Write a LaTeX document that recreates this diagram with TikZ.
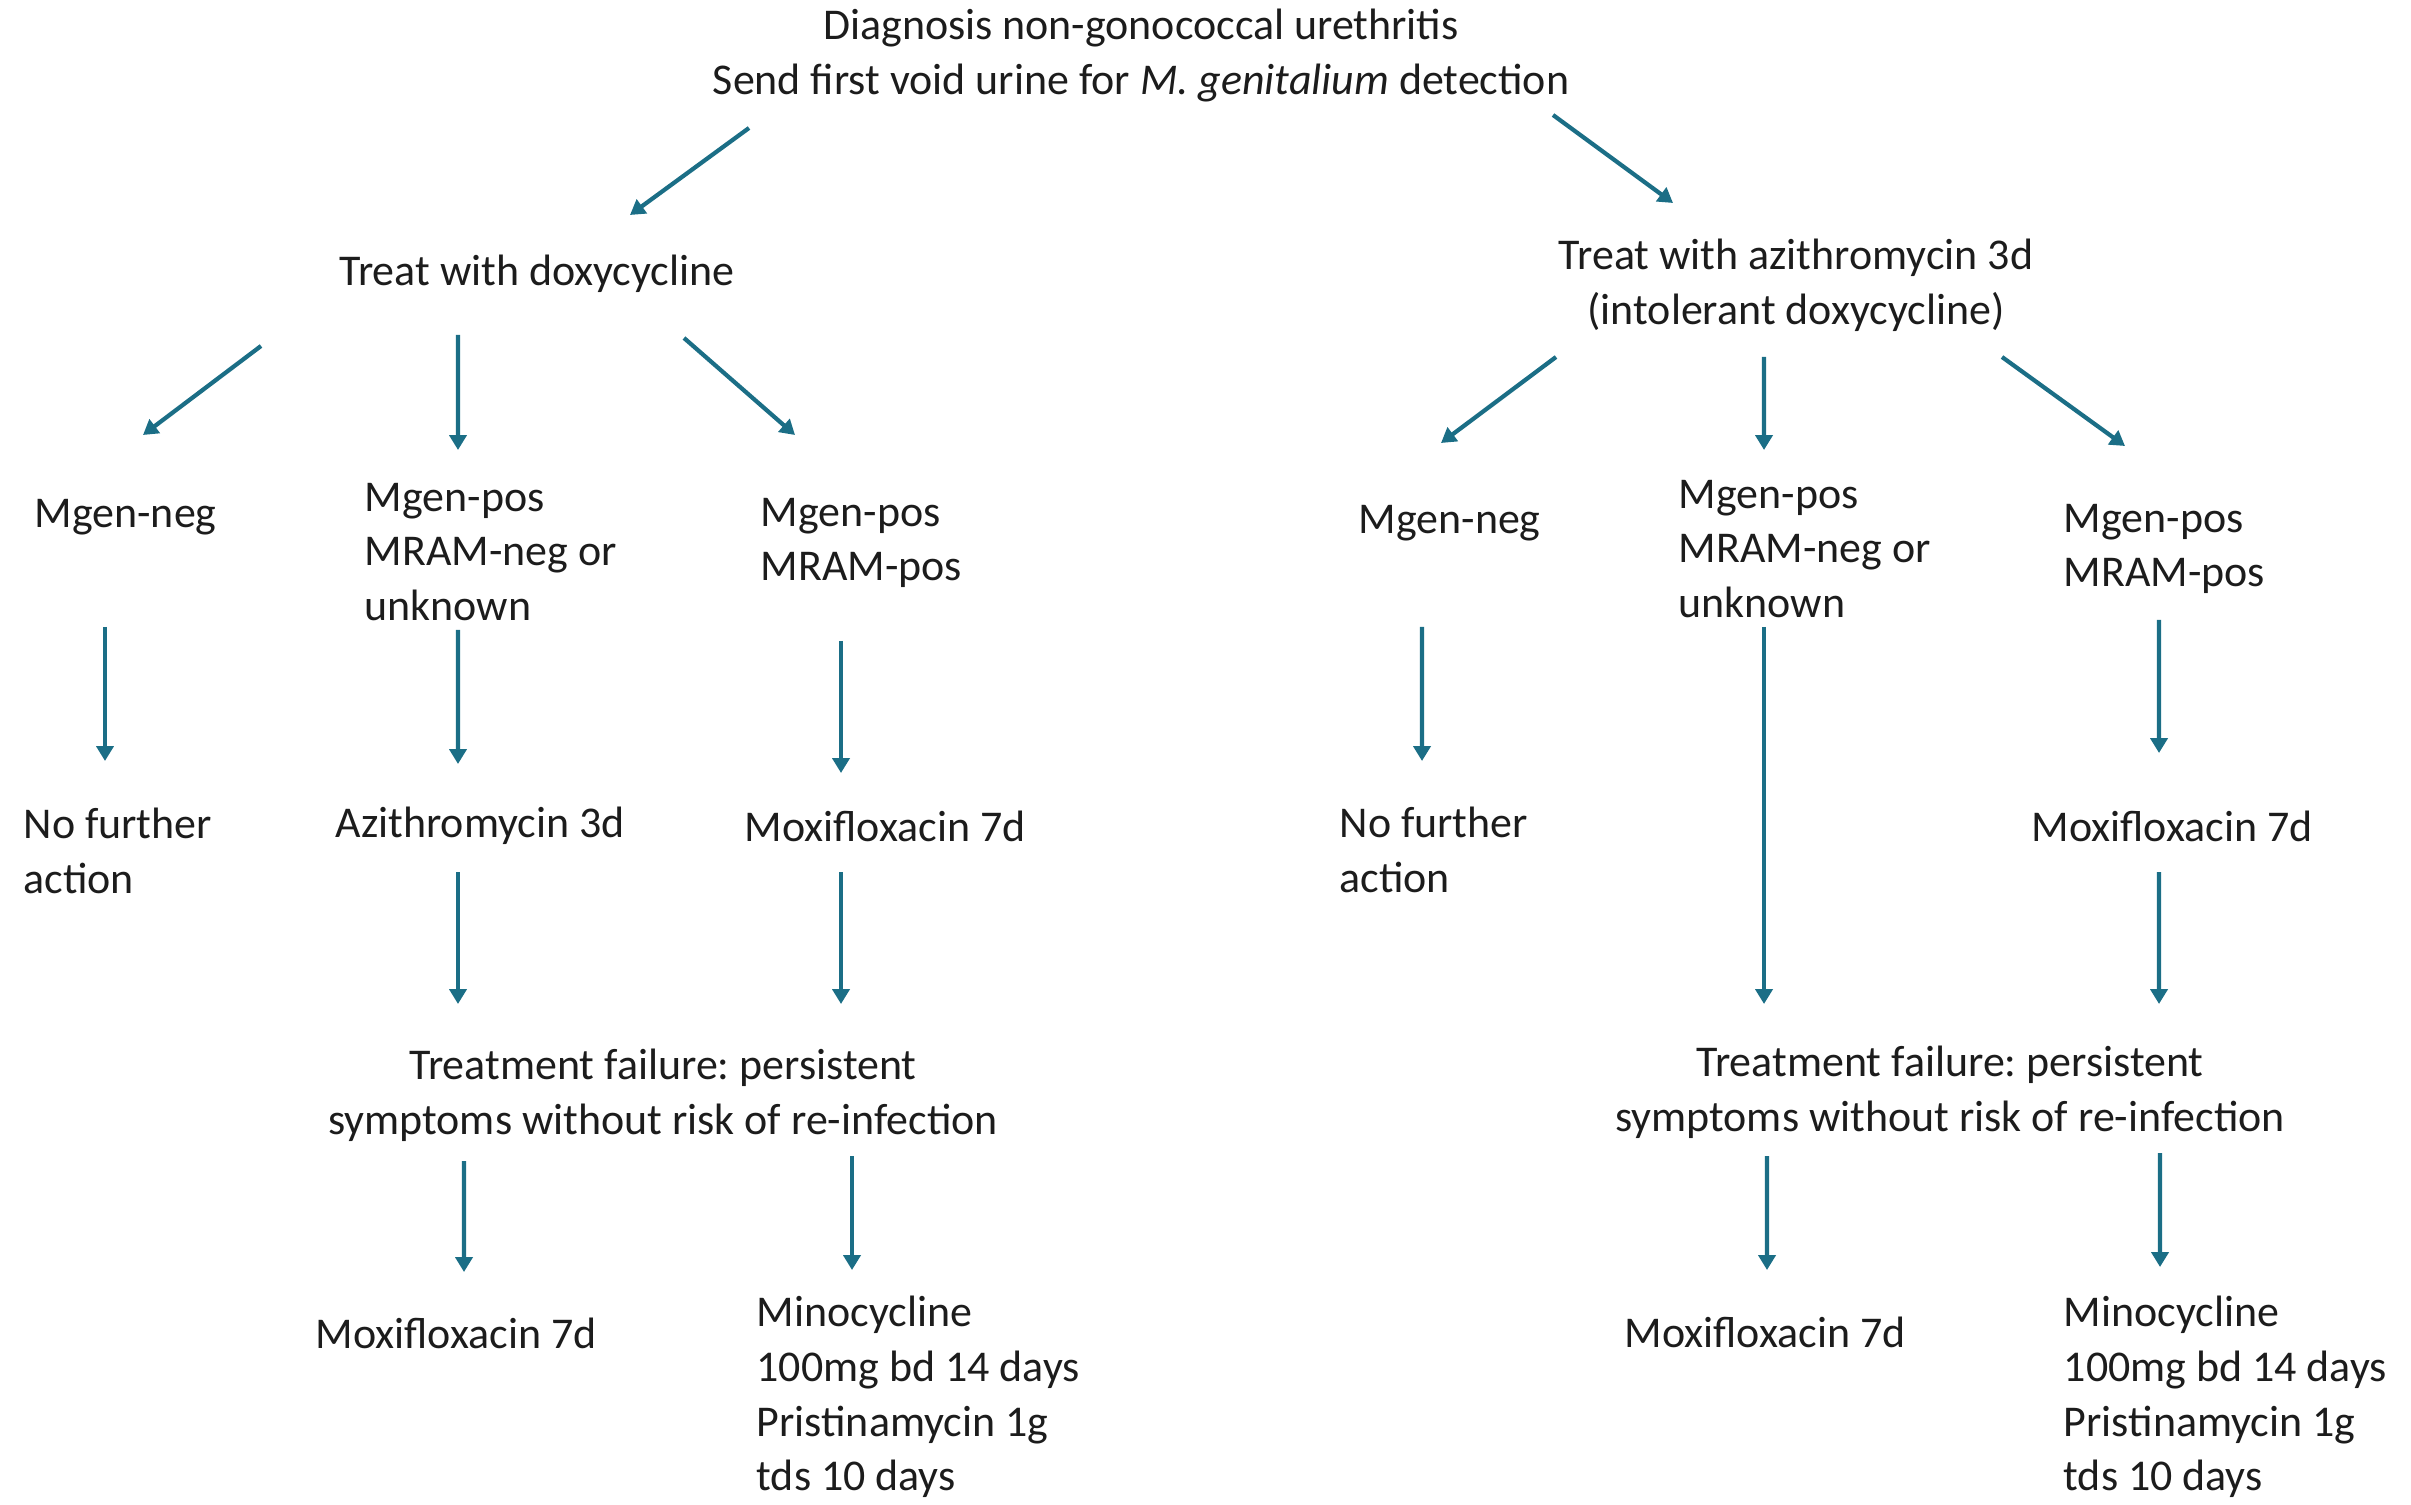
\documentclass[tikz,border=0pt]{standalone}
\usepackage{fontspec}
\setmainfont{Carlito}
\frenchspacing
\usetikzlibrary{arrows.meta}
\definecolor{arrowteal}{HTML}{1B6E86}
\definecolor{inkgray}{HTML}{1C1C1C}

\tikzset{
	txt/.style={inner sep=0pt,text=inkgray,font=\fontsize{12.5}{15.6}\selectfont},
	lefttxt/.style={txt,anchor=west,align=left},
	midtxt/.style={txt,align=center},
	arr/.style={draw=arrowteal,line width=1.2pt,-{Triangle[length=4.2pt,width=4.8pt]}}
}

\begin{document}
\begin{tikzpicture}
		\useasboundingbox (0,0) rectangle (24.11,-15.05);
		% top
		\node[midtxt] (diag) at (11.41,-0.555) {Diagnosis non-gonococcal urethritis\\Send first void urine for \textit{M. genitalium} detection};
		\node[midtxt] (doxy) at (5.37,-2.74) {Treat with doxycycline};
		\node[midtxt] (azi) at (17.96,-2.85) {Treat with azithromycin 3d\\(intolerant doxycycline)};
		% results
		\node[lefttxt] (negL) at (0.34,-5.17) {Mgen-neg};
		\node[lefttxt] (posL) at (3.64,-5.52) {Mgen-pos\\MRAM-neg or\\unknown};
		\node[lefttxt] (mramL) at (7.60,-5.43) {Mgen-pos\\MRAM-pos};
		\node[lefttxt] (negR) at (13.58,-5.23) {Mgen-neg};
		\node[lefttxt] (posR) at (16.78,-5.49) {Mgen-pos\\MRAM-neg or\\unknown};
		\node[lefttxt] (mramR) at (20.63,-5.49) {Mgen-pos\\MRAM-pos};
		% first treatment
		\node[lefttxt] (nofurL) at (0.23,-8.51) {No further\\action};
		\node[lefttxt] (aziL) at (3.35,-8.26) {Azithromycin 3d};
		\node[lefttxt] (moxL) at (7.44,-8.26) {Moxifloxacin 7d};
		\node[lefttxt] (nofurR) at (13.39,-8.50) {No further\\action};
		\node[lefttxt] (moxR) at (20.31,-8.26) {Moxifloxacin 7d};
		% failure
		\node[midtxt] (failL) at (6.63,-10.95) {Treatment failure: persistent\\symptoms without risk of re-infection};
		\node[midtxt] (failR) at (19.50,-10.92) {Treatment failure: persistent\\symptoms without risk of re-infection};
		% second line
		\node[lefttxt] (moxL2) at (3.15,-13.33) {Moxifloxacin 7d};
		\node[lefttxt] (minoL) at (7.56,-13.97) {Minocycline\\100mg bd 14 days\\Pristinamycin 1g\\tds 10 days};
		\node[lefttxt] (moxR2) at (16.24,-13.32) {Moxifloxacin 7d};
		\node[lefttxt] (minoR) at (20.63,-13.97) {Minocycline\\100mg bd 14 days\\Pristinamycin 1g\\tds 10 days};

		% arrows
		\draw[arr] ([shift={(-3.92,-0.725)}]diag.center) -- ([shift={(0.93,0.59)}]doxy.center);
		\draw[arr] ([shift={(4.12,-0.595)}]diag.center) -- ([shift={(-1.23,0.82)}]azi.center);
		\draw[arr] ([shift={(-2.76,-0.72)}]doxy.center) -- ([shift={(1.09,0.82)}]negL.west);
		\draw[arr] ([shift={(-0.79,-0.61)}]doxy.center) -- ([shift={(0.94,1.02)}]posL.west);
		\draw[arr] ([shift={(1.47,-0.64)}]doxy.center) -- ([shift={(0.35,1.08)}]mramL.west);
		\draw[arr] ([shift={(-2.40,-0.72)}]azi.center) -- ([shift={(0.83,0.80)}]negR.west);
		\draw[arr] ([shift={(-0.32,-0.72)}]azi.center) -- ([shift={(0.86,0.99)}]posR.west);
		\draw[arr] ([shift={(2.06,-0.72)}]azi.center) -- ([shift={(0.62,1.03)}]mramR.west);
		\draw[arr] ([shift={(0.71,-1.10)}]negL.west) -- ([shift={(0.82,0.90)}]nofurL.west);
		\draw[arr] ([shift={(0.94,-0.78)}]posL.west) -- ([shift={(1.23,0.62)}]aziL.west);
		\draw[arr] ([shift={(0.81,-0.98)}]mramL.west) -- ([shift={(0.97,0.53)}]moxL.west);
		\draw[arr] ([shift={(0.64,-1.04)}]negR.west) -- ([shift={(0.83,0.89)}]nofurR.west);
		\draw[arr] ([shift={(0.86,-0.78)}]posR.west) -- ([shift={(-1.86,0.88)}]failR.center);
		\draw[arr] ([shift={(0.96,-0.71)}]mramR.west) -- ([shift={(1.28,0.73)}]moxR.west);
		\draw[arr] ([shift={(1.23,-0.46)}]aziL.west) -- ([shift={(-2.05,0.91)}]failL.center);
		\draw[arr] ([shift={(0.97,-0.46)}]moxL.west) -- ([shift={(1.78,0.91)}]failL.center);
		\draw[arr] ([shift={(1.28,-0.46)}]moxR.west) -- ([shift={(2.09,0.88)}]failR.center);
		\draw[arr] ([shift={(-1.99,-0.66)}]failL.center) -- ([shift={(1.49,0.61)}]moxL2.west);
		\draw[arr] ([shift={(1.89,-0.61)}]failL.center) -- ([shift={(0.96,1.27)}]minoL.west);
		\draw[arr] ([shift={(-1.83,-0.64)}]failR.center) -- ([shift={(1.43,0.62)}]moxR2.west);
		\draw[arr] ([shift={(2.10,-0.61)}]failR.center) -- ([shift={(0.97,1.30)}]minoR.west);
	\end{tikzpicture}
\end{document}
